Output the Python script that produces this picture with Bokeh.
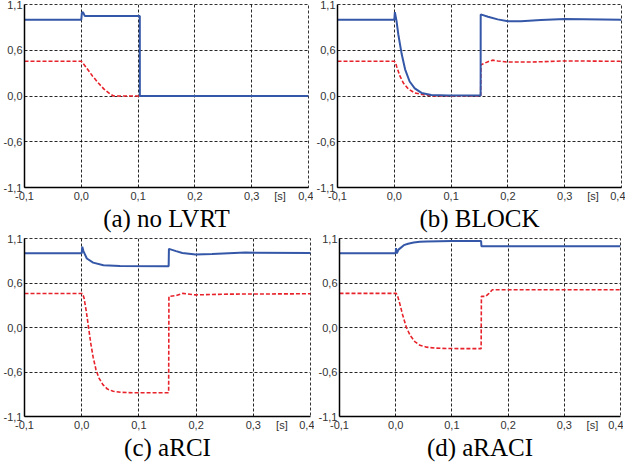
from bokeh.plotting import figure
from bokeh.models import Range1d, FixedTicker
from bokeh.layouts import column, row
from bokeh.embed import file_html
from bokeh.resources import INLINE

# ---------------- data ----------------
x_ticks = [-0.1, 0.0, 0.1, 0.2, 0.3, 0.4]
x_labels = ["-0,1", "0,0", "0,1", "0,2", "0,3", "0,4"]
unit_pos = 0.35
unit_label = "[s]"
y_ticks = [-1.2, -0.6, 0.0, 0.6, 1.2]
y_labels = ["-1,1", "-0,6", "0,0", "0,6", "1,1"]

captions = ["(a) no LVRT", "(b) BLOCK", "(c) aRCI", "(d) aRACI"]

# (a) no LVRT
t_blue_a = [-0.1, 0.0, 0.001, 0.003, 0.006, 0.103, 0.1031, 0.4]
v_blue_a = [1.0, 1.0, 1.09, 1.10, 1.05, 1.05, 0.0, 0.0]
t_red_a = [-0.1, 0.0, 0.005, 0.01, 0.02, 0.03, 0.04, 0.05, 0.057, 0.4]
v_red_a = [0.455, 0.455, 0.41, 0.36, 0.26, 0.17, 0.09, 0.03, 0.0, 0.0]

# (b) BLOCK
t_blue_b = [-0.1, 0.0, 0.001, 0.004, 0.007, 0.013, 0.019, 0.027, 0.036, 0.048,
            0.065, 0.095, 0.152, 0.1521, 0.165, 0.182, 0.2, 0.223, 0.258, 0.3, 0.4]
v_blue_b = [1.0, 1.0, 1.10, 0.98, 0.81, 0.55, 0.35, 0.19, 0.10, 0.04,
            0.013, 0.005, 0.005, 1.07, 1.04, 1.005, 0.98, 0.98, 0.997, 1.01, 1.0]
t_red_b = [-0.1, 0.0, 0.002, 0.004, 0.01, 0.016, 0.025, 0.036, 0.054, 0.07,
           0.152, 0.1525, 0.159, 0.165, 0.173, 0.182, 0.2, 0.241, 0.3, 0.4]
v_red_b = [0.455, 0.455, 0.44, 0.39, 0.26, 0.17, 0.09, 0.04, 0.013, 0.0,
           0.0, 0.41, 0.43, 0.45, 0.47, 0.46, 0.445, 0.445, 0.46, 0.455]

# (c) aRCI
t_blue_c = [-0.1, 0.0, 0.001, 0.003, 0.009, 0.02, 0.038, 0.067, 0.152, 0.1525,
            0.165, 0.176, 0.199, 0.228, 0.286, 0.4]
v_blue_c = [1.0, 1.0, 1.09, 1.03, 0.93, 0.875, 0.84, 0.83, 0.826, 1.06,
            1.03, 1.005, 0.985, 0.99, 1.01, 1.005]
t_red_c = [-0.1, 0.0015, 0.004, 0.008, 0.012, 0.016, 0.02, 0.025, 0.03, 0.037,
           0.045, 0.055, 0.07, 0.09, 0.152, 0.1525, 0.165, 0.176, 0.199, 0.257, 0.4]
v_red_c = [0.458, 0.458, 0.40, 0.22, 0.0, -0.22, -0.40, -0.57, -0.68, -0.77,
           -0.83, -0.86, -0.875, -0.88, -0.88, 0.42, 0.43, 0.46, 0.44, 0.45, 0.455]

# (d) aRACI
t_blue_d = [-0.1, 0.0, 0.0005, 0.002, 0.005, 0.0145, 0.022, 0.032, 0.043, 0.055,
            0.1, 0.152, 0.1525, 0.4]
v_blue_d = [1.0, 1.0, 1.07, 1.0, 1.05, 1.11, 1.13, 1.145, 1.155, 1.16,
            1.165, 1.165, 1.095, 1.095]
t_red_d = [-0.1, 0.001, 0.004, 0.008, 0.012, 0.019, 0.026, 0.034, 0.043, 0.055,
           0.07, 0.09, 0.12, 0.152, 0.1525, 0.16, 0.166, 0.172, 0.4]
v_red_d = [0.46, 0.46, 0.41, 0.30, 0.18, 0.0, -0.11, -0.19, -0.24, -0.265,
           -0.278, -0.283, -0.285, -0.285, 0.42, 0.42, 0.46, 0.51, 0.51]

BLUE = "#3457a8"
RED = "#e8222a"
SANS = "Liberation Sans"
SERIF = "Liberation Serif"


def panel(tb, vb, tr, vr, caption, fw, fh, bl, br, bt, bb):
    p = figure(frame_width=fw, frame_height=fh,
               x_range=Range1d(-0.1, 0.4), y_range=Range1d(-1.2, 1.2),
               output_backend="svg", toolbar_location=None,
               min_border_left=bl, min_border_right=br,
               min_border_top=bt, min_border_bottom=bb,
               background_fill_color="white", border_fill_color="white")
    p.title.visible = False
    p.line(tr, vr, color=RED, line_width=1.6, line_dash="4 2")
    p.line(tb, vb, color=BLUE, line_width=2)

    xt = sorted(x_ticks + [unit_pos])
    p.xaxis.ticker = FixedTicker(ticks=xt)
    ov = {k: l for k, l in zip(x_ticks, x_labels)}
    ov[unit_pos] = unit_label
    p.xaxis.major_label_overrides = ov
    p.yaxis.ticker = FixedTicker(ticks=y_ticks)
    p.yaxis.major_label_overrides = {k: l for k, l in zip(y_ticks, y_labels)}
    p.xgrid.ticker = FixedTicker(ticks=x_ticks)
    p.ygrid.ticker = FixedTicker(ticks=y_ticks)

    for ax in (p.xaxis, p.yaxis):
        ax.major_tick_in = 0
        ax.major_tick_out = 0
        ax.minor_tick_line_color = None
        ax.axis_line_color = "black"
        ax.axis_line_width = 1.5
        ax.major_label_text_font = SANS
        ax.major_label_text_font_size = "11px"
        ax.major_label_text_color = "#333333"
        ax.major_label_standoff = 2
    p.xaxis.axis_label = caption
    p.xaxis.axis_label_text_font = SERIF
    p.xaxis.axis_label_text_font_size = "25px"
    p.xaxis.axis_label_text_font_style = "normal"
    p.xaxis.axis_label_text_color = "black"
    p.xaxis.axis_label_standoff = 0

    p.grid.grid_line_color = "black"
    p.grid.grid_line_dash = "3 2"
    p.grid.grid_line_width = 1
    p.grid.grid_line_alpha = 0.85
    p.outline_line_color = "#333333"
    p.outline_line_dash = "3 2"
    p.outline_line_width = 1
    return p


pa = panel(t_blue_a, v_blue_a, t_red_a, v_red_a, captions[0], 284, 183, 21, 5, 4, 45)
pb = panel(t_blue_b, v_blue_b, t_red_b, v_red_b, captions[1], 284, 183, 22, 4, 4, 45)
pc = panel(t_blue_c, v_blue_c, t_red_c, v_red_c, captions[2], 286, 178, 21, 4, 4, 45)
pd = panel(t_blue_d, v_blue_d, t_red_d, v_red_d, captions[3], 281, 178, 25, 3, 4, 45)

layout = column(row(pa, pb, spacing=0), row(pc, pd, spacing=0), spacing=0)

open("out.html", "w").write(file_html(layout, INLINE))
